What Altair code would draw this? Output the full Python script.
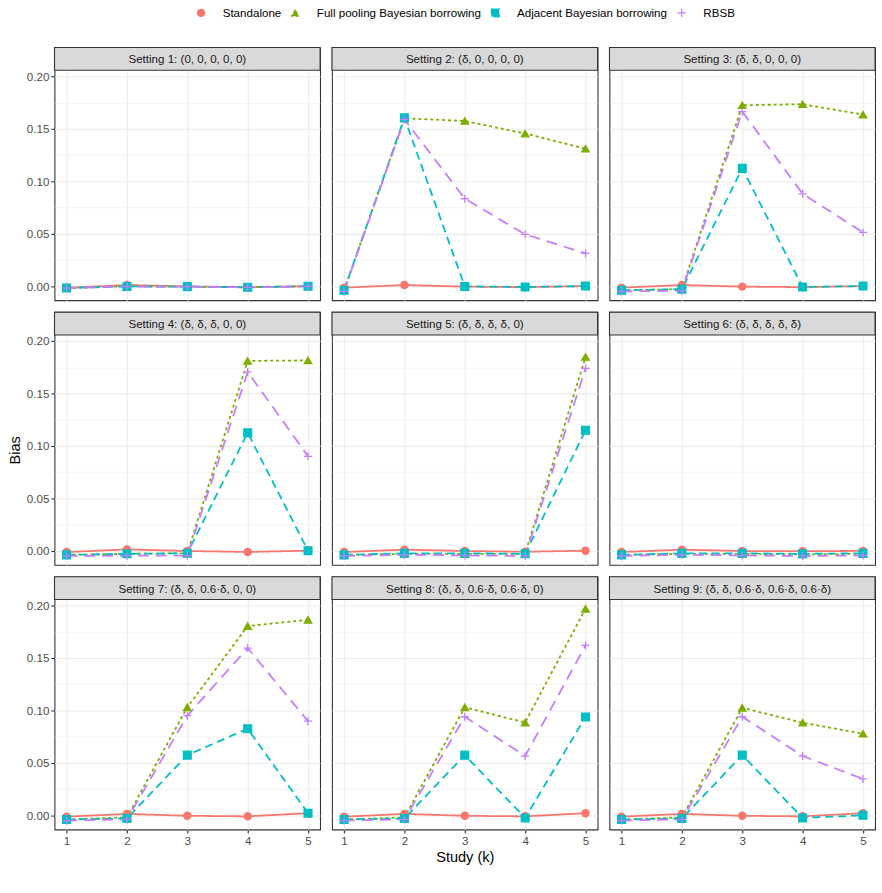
import altair as alt
import pandas as pd

FONT = "Liberation Sans"

STUDIES = [1, 2, 3, 4, 5]
METHODS = [
    "Standalone",
    "Full pooling Bayesian borrowing",
    "Adjacent Bayesian borrowing",
    "RBSB",
]
COLORS = ["#F8766D", "#7CAE00", "#00BFC4", "#C77CFF"]
SETTINGS = [
    "Setting 1: (0, 0, 0, 0, 0)",
    "Setting 2: (δ, 0, 0, 0, 0)",
    "Setting 3: (δ, δ, 0, 0, 0)",
    "Setting 4: (δ, δ, δ, 0, 0)",
    "Setting 5: (δ, δ, δ, δ, 0)",
    "Setting 6: (δ, δ, δ, δ, δ)",
    "Setting 7: (δ, δ, 0.6·δ, 0, 0)",
    "Setting 8: (δ, δ, 0.6·δ, 0.6·δ, 0)",
    "Setting 9: (δ, δ, 0.6·δ, 0.6·δ, 0.6·δ)",
]

# Bias by study k = 1..5, one row per setting
STANDALONE = [
    [-0.0015, 0.0010, -0.0003, -0.0010, -0.0002],
    [-0.0015, 0.0010, -0.0005, -0.0010, 0.0000],
    [-0.0015, 0.0010, -0.0005, -0.0010, 0.0000],
    [-0.0013, 0.0012, -0.0003, -0.0012, 0.0000],
    [-0.0013, 0.0010, -0.0003, -0.0010, 0.0000],
    [-0.0013, 0.0010, -0.0003, -0.0005, -0.0002],
    [-0.0013, 0.0013, -0.0005, -0.0010, 0.0020],
    [-0.0013, 0.0013, -0.0005, -0.0010, 0.0020],
    [-0.0013, 0.0013, -0.0005, -0.0010, 0.0020],
]
FULL_POOLING = [
    [-0.0020, -0.0002, -0.0005, -0.0012, 0.0000],
    [-0.0040, 0.1600, 0.1575, 0.1455, 0.1310],
    [-0.0040, -0.0030, 0.1725, 0.1735, 0.1635],
    [-0.0040, -0.0030, -0.0025, 0.1810, 0.1815],
    [-0.0040, -0.0030, -0.0030, -0.0030, 0.1848],
    [-0.0040, -0.0030, -0.0030, -0.0035, -0.0030],
    [-0.0040, -0.0020, 0.1030, 0.1805, 0.1865],
    [-0.0040, -0.0020, 0.1030, 0.0885, 0.1970],
    [-0.0040, -0.0020, 0.1025, 0.0883, 0.0778],
]
ADJACENT = [
    [-0.0018, -0.0003, -0.0005, -0.0012, -0.0001],
    [-0.0040, 0.1605, -0.0003, -0.0008, 0.0000],
    [-0.0040, -0.0030, 0.1123, -0.0008, 0.0000],
    [-0.0040, -0.0030, -0.0025, 0.1125, 0.0000],
    [-0.0040, -0.0025, -0.0025, -0.0030, 0.1148],
    [-0.0040, -0.0025, -0.0025, -0.0030, -0.0025],
    [-0.0040, -0.0030, 0.0574, 0.0826, 0.0020],
    [-0.0040, -0.0030, 0.0574, -0.0025, 0.0937],
    [-0.0040, -0.0030, 0.0574, -0.0025, 0.0000],
]
RBSB = [
    [-0.0020, -0.0004, -0.0005, -0.0012, -0.0002],
    [-0.0050, 0.1590, 0.0833, 0.0494, 0.0312],
    [-0.0050, -0.0045, 0.1665, 0.0880, 0.0512],
    [-0.0050, -0.0048, -0.0048, 0.1705, 0.0900],
    [-0.0050, -0.0040, -0.0045, -0.0050, 0.1738],
    [-0.0050, -0.0040, -0.0045, -0.0050, -0.0045],
    [-0.0050, -0.0040, 0.0950, 0.1595, 0.0898],
    [-0.0050, -0.0040, 0.0940, 0.0565, 0.1620],
    [-0.0050, -0.0040, 0.0940, 0.0565, 0.0347],
]

records = []
for s, label in enumerate(SETTINGS):
    for method, series in zip(METHODS, [STANDALONE, FULL_POOLING, ADJACENT, RBSB]):
        for k, v in zip(STUDIES, series[s]):
            records.append({"setting": label, "method": method, "study": k, "bias": v})
df = pd.DataFrame(records)

# panel geometry: plot area plus a grey strip on top sharing one y scale
W = 268
H_PLOT = 232
H_STRIP = 23
Y_MIN = -0.0135
Y_TOP = 0.2058
Y_MAX = Y_TOP + H_STRIP * (Y_TOP - Y_MIN) / H_PLOT
Y_GRID = [i * 0.025 for i in range(9)]
MAJOR = "abs(round(datum.value * 40)) % 2 == 0"

PLUS = "M-1,0H1M0,-1V1"

color_scale = alt.Scale(domain=METHODS, range=COLORS)
shape_scale = alt.Scale(domain=METHODS, range=["circle", "triangle-up", "square", PLUS])
dash_scale = alt.Scale(domain=METHODS, range=[[1, 0], [3, 3], [8, 5], [11, 7]])
size_scale = alt.Scale(domain=METHODS, range=[52, 66, 46, 120])

legend = alt.Legend(
    title=None,
    orient="none",
    direction="horizontal",
    legendX=142,
    legendY=-41,
    labelFont=FONT,
    labelFontSize=11.7,
    labelColor="#000000",
    labelLimit=400,
    symbolSize=55,
    symbolStrokeWidth=1.2,
    labelOffset=16,
    columnPadding=7,
)


def panel(i):
    row, col = divmod(i, 3)
    label = SETTINGS[i]
    data = df[df["setting"] == label]

    bottom = row == 2
    left = col == 0

    x_axis = alt.Axis(
        values=STUDIES,
        format="d",
        grid=True,
        gridColor="#EBEBEB",
        gridWidth=1.1,
        domain=False,
        ticks=bottom,
        labels=bottom,
        tickColor="#333333",
        tickSize=3.7,
        tickWidth=1.1,
        labelFont=FONT,
        labelFontSize=11.7,
        labelColor="#4D4D4D",
        labelPadding=2,
        labelFlush=False,
        titleFont=FONT,
        titleFontSize=14.7,
        titleFontWeight="normal",
        titleColor="#000000",
        titlePadding=3,
    )
    y_axis = alt.Axis(
        values=Y_GRID,
        grid=True,
        gridColor="#EBEBEB",
        gridWidth={"condition": {"test": MAJOR, "value": 1.1}, "value": 0.55},
        domain=False,
        ticks=left,
        labels=left,
        tickColor="#333333",
        tickSize=3.7,
        tickWidth=1.1,
        tickOpacity={"condition": {"test": MAJOR, "value": 1}, "value": 0},
        labelExpr=f"({MAJOR}) ? format(datum.value, '.2f') : ''",
        labelFont=FONT,
        labelFontSize=11.7,
        labelColor="#4D4D4D",
        labelPadding=2,
        labelOverlap=False,
        labelFlush=False,
        titleFont=FONT,
        titleFontSize=14.7,
        titleFontWeight="normal",
        titleColor="#000000",
        titlePadding=4,
        titleOpacity=1 if row == 1 else 0,
        titleY=H_STRIP + H_PLOT / 2,
    )

    x_enc = alt.X(
        "study:Q",
        scale=alt.Scale(domain=[0.8, 5.2], nice=False, zero=False),
        axis=x_axis,
        title="Study (k)" if (bottom and col == 1) else None,
    )
    y_enc = alt.Y(
        "bias:Q",
        scale=alt.Scale(domain=[Y_MIN, Y_MAX], nice=False, zero=False),
        axis=y_axis,
        title="Bias" if left else None,
    )

    base = alt.Chart(data)
    lines = base.mark_line(strokeWidth=1.8).encode(
        x=x_enc,
        y=y_enc,
        color=alt.Color("method:N", scale=color_scale, legend=legend, sort=METHODS),
        strokeDash=alt.StrokeDash("method:N", scale=dash_scale, legend=None),
        detail="method:N",
    )
    points = base.mark_point(filled=True, strokeWidth=1.3, opacity=1).encode(
        x=x_enc,
        y=y_enc,
        color=alt.Color("method:N", scale=color_scale, legend=legend, sort=METHODS),
        stroke=alt.Stroke("method:N", scale=color_scale, legend=legend, sort=METHODS),
        shape=alt.Shape("method:N", scale=shape_scale, legend=legend, sort=METHODS),
        size=alt.Size("method:N", scale=size_scale, legend=None),
    )

    strip_data = pd.DataFrame({"label": [label]})
    strip_box = alt.Chart(strip_data).mark_rect(
        fill="#D9D9D9", stroke="#333333", strokeWidth=1.1
    ).encode(
        x=alt.value(0), x2=alt.value(W), y=alt.value(0), y2=alt.value(H_STRIP)
    )
    strip_text = alt.Chart(strip_data).mark_text(
        font=FONT, fontSize=11.7, color="#1A1A1A", baseline="middle", align="center"
    ).encode(
        x=alt.value(W / 2), y=alt.value(H_STRIP / 2 + 0.5), text="label:N"
    )

    return alt.layer(lines, points, strip_box, strip_text).properties(
        width=W, height=H_PLOT + H_STRIP
    )


grid_rows = [
    alt.hconcat(*[panel(3 * r + c) for c in range(3)], spacing=8) for r in range(3)
]

chart = (
    alt.vconcat(*grid_rows, spacing=9)
    .properties(
        padding={"left": 7, "top": 3, "right": 5, "bottom": 5},
        background="#FFFFFF",
    )
    .configure_view(stroke="#333333", strokeWidth=1.1)
)

chart.save("out.html", embed_options={"renderer": "svg", "actions": False})
